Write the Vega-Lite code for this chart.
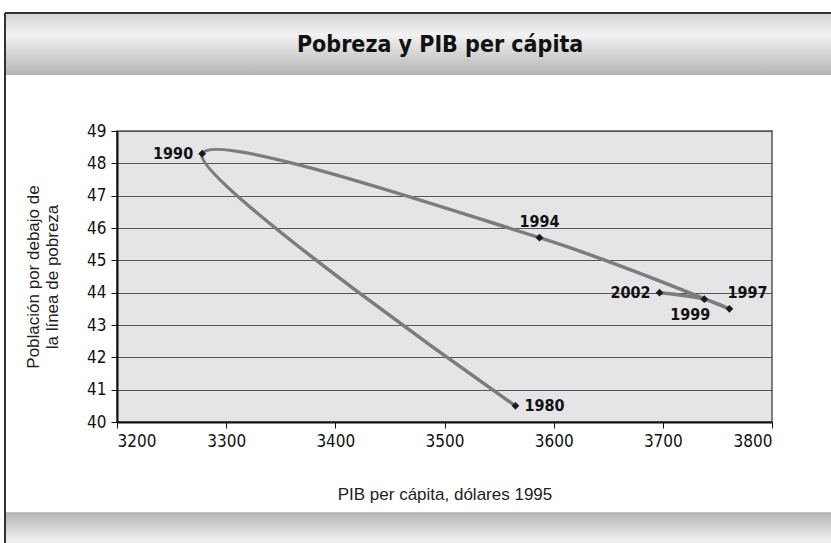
{
  "$schema": "https://vega.github.io/schema/vega-lite/v6.json",
  "width": 655,
  "height": 291,
  "autosize": {"type": "none"},
  "padding": {"left": 117, "top": 131, "right": 59, "bottom": 121},
  "background": "white",
  "data": {
    "values": [
      {"year": 1980, "pib": 3565, "pobreza": 40.5},
      {"year": 1990, "pib": 3278, "pobreza": 48.3},
      {"year": 1994, "pib": 3587, "pobreza": 45.7},
      {"year": 1997, "pib": 3761, "pobreza": 43.5},
      {"year": 1999, "pib": 3738, "pobreza": 43.8},
      {"year": 2002, "pib": 3697, "pobreza": 44.0}
    ]
  },
  "config": {
    "numberFormat": "d",
    "view": {"fill": "#e5e5e7", "stroke": "#555555", "strokeWidth": 1.5},
    "axis": {
      "labelFont": "DejaVu Sans Condensed, DejaVu Sans, sans-serif",
      "labelFontSize": 17,
      "labelColor": "#111111",
      "titleFont": "Liberation Sans, Arial, sans-serif",
      "titleFontSize": 17,
      "titleFontWeight": "normal",
      "titleColor": "#222222",
      "domainColor": "#111111",
      "domainWidth": 2,
      "tickColor": "#111111",
      "tickSize": 6,
      "labelPadding": 5,
      "labelOverlap": false
    },
    "axisX": {"grid": false, "tickCount": 7},
    "axisY": {"grid": true, "gridColor": "#555555", "gridWidth": 1.2, "tickCount": 10}
  },
  "layer": [
    {
      "mark": {"type": "line", "interpolate": "catmull-rom", "color": "#7c7c7c", "strokeWidth": 3.5, "strokeCap": "round", "strokeJoin": "round"},
      "encoding": {
        "x": {
          "field": "pib", "type": "quantitative",
          "scale": {"domain": [3200, 3800], "nice": false, "zero": false},
          "axis": {"values": [3200, 3300, 3400, 3500, 3600, 3700, 3800], "grid": false, "format": "d", "title": "PIB per cápita, dólares 1995", "titlePadding": 37}
        },
        "y": {
          "field": "pobreza", "type": "quantitative",
          "scale": {"domain": [40, 49], "nice": false, "zero": false},
          "axis": {"values": [40, 41, 42, 43, 44, 45, 46, 47, 48, 49], "grid": true, "format": "d", "title": ["Población por debajo de", "la línea de pobreza"], "titlePadding": 25, "titleLineHeight": 19}
        },
        "order": {"field": "year", "type": "quantitative"}
      }
    },
    {
      "mark": {"type": "point", "shape": "diamond", "filled": true, "color": "#1a1a1a", "size": 60, "opacity": 1},
      "encoding": {
        "x": {"field": "pib", "type": "quantitative"},
        "y": {"field": "pobreza", "type": "quantitative"}
      }
    },
    {
      "transform": [{"filter": "datum.year == 1990 || datum.year == 2002"}],
      "mark": {"type": "text", "align": "right", "baseline": "middle", "dx": -9, "font": "DejaVu Sans Condensed, DejaVu Sans, sans-serif", "fontSize": 16, "fontWeight": "bold", "color": "#111111"},
      "encoding": {
        "x": {"field": "pib", "type": "quantitative"},
        "y": {"field": "pobreza", "type": "quantitative"},
        "text": {"field": "year", "type": "quantitative", "format": "d"}
      }
    },
    {
      "transform": [{"filter": "datum.year == 1980"}],
      "mark": {"type": "text", "align": "left", "baseline": "middle", "dx": 9, "font": "DejaVu Sans Condensed, DejaVu Sans, sans-serif", "fontSize": 16, "fontWeight": "bold", "color": "#111111"},
      "encoding": {
        "x": {"field": "pib", "type": "quantitative"},
        "y": {"field": "pobreza", "type": "quantitative"},
        "text": {"field": "year", "type": "quantitative", "format": "d"}
      }
    },
    {
      "transform": [{"filter": "datum.year == 1994"}],
      "mark": {"type": "text", "align": "center", "baseline": "middle", "dy": -16, "font": "DejaVu Sans Condensed, DejaVu Sans, sans-serif", "fontSize": 16, "fontWeight": "bold", "color": "#111111"},
      "encoding": {
        "x": {"field": "pib", "type": "quantitative"},
        "y": {"field": "pobreza", "type": "quantitative"},
        "text": {"field": "year", "type": "quantitative", "format": "d"}
      }
    },
    {
      "transform": [{"filter": "datum.year == 1997"}],
      "mark": {"type": "text", "align": "left", "baseline": "middle", "dx": -2, "dy": -16, "font": "DejaVu Sans Condensed, DejaVu Sans, sans-serif", "fontSize": 16, "fontWeight": "bold", "color": "#111111"},
      "encoding": {
        "x": {"field": "pib", "type": "quantitative"},
        "y": {"field": "pobreza", "type": "quantitative"},
        "text": {"field": "year", "type": "quantitative", "format": "d"}
      }
    },
    {
      "transform": [{"filter": "datum.year == 1999"}],
      "mark": {"type": "text", "align": "center", "baseline": "middle", "dx": -14, "dy": 16, "font": "DejaVu Sans Condensed, DejaVu Sans, sans-serif", "fontSize": 16, "fontWeight": "bold", "color": "#111111"},
      "encoding": {
        "x": {"field": "pib", "type": "quantitative"},
        "y": {"field": "pobreza", "type": "quantitative"},
        "text": {"field": "year", "type": "quantitative", "format": "d"}
      }
    },
    {
      "mark": {"type": "rect", "color": {"gradient": "linear", "x1": 0, "y1": 0, "x2": 0, "y2": 1, "stops": [{"offset": 0, "color": "#d4d4d4"}, {"offset": 0.35, "color": "#f2f2f2"}, {"offset": 1, "color": "#b4b4b4"}]}},
      "encoding": {
        "x": {"datum": 3097.4, "type": "quantitative"},
        "x2": {"datum": 3950},
        "y": {"datum": 52.65, "type": "quantitative"},
        "y2": {"datum": 50.73}
      }
    },
    {
      "mark": {"type": "rect", "color": {"gradient": "linear", "x1": 0, "y1": 0, "x2": 0, "y2": 1, "stops": [{"offset": 0, "color": "#b4b4b4"}, {"offset": 0.5, "color": "#efefef"}, {"offset": 1, "color": "#d6d6d6"}]}},
      "encoding": {
        "x": {"datum": 3097.4, "type": "quantitative"},
        "x2": {"datum": 3950},
        "y": {"datum": 37.19, "type": "quantitative"},
        "y2": {"datum": 35.5}
      }
    },
    {
      "data": {"values": [{"titulo": "Pobreza y PIB per cápita"}]},
      "mark": {"type": "text", "align": "center", "baseline": "middle", "font": "DejaVu Sans Condensed, DejaVu Sans, sans-serif", "fontSize": 23, "fontWeight": "bold", "color": "#111111"},
      "encoding": {
        "x": {"datum": 3496, "type": "quantitative"},
        "y": {"datum": 51.66, "type": "quantitative"},
        "text": {"field": "titulo", "type": "nominal"}
      }
    },
    {
      "mark": {"type": "rule", "color": "#333333", "strokeWidth": 1.5},
      "encoding": {
        "x": {"datum": 3097.4, "type": "quantitative"},
        "y": {"datum": 52.65, "type": "quantitative"},
        "y2": {"datum": 35.3}
      }
    },
    {
      "mark": {"type": "rule", "color": "#333333", "strokeWidth": 1.5},
      "encoding": {
        "x": {"datum": 3097.4, "type": "quantitative"},
        "x2": {"datum": 3950},
        "y": {"datum": 52.65, "type": "quantitative"}
      }
    }
  ]
}
